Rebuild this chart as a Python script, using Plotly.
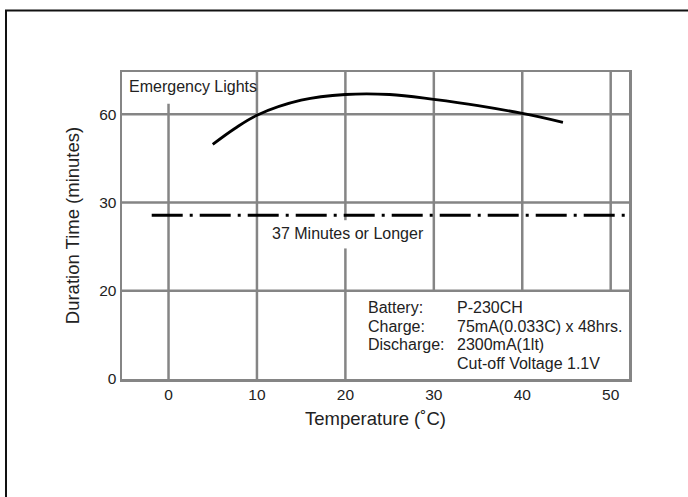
import plotly.graph_objects as go

# ---- data ----
temperature_c = [5, 7.5, 10, 15, 20, 25, 30, 35, 40, 44.6]
# positions on the (non-linear) duration axis: 0->0, 1->20, 2->30, 3->60 minutes
duration_pos = [2.66, 2.84, 2.99, 3.16, 3.225, 3.225, 3.17, 3.10, 3.01, 2.91]

threshold_label = "37 Minutes or Longer"
threshold_pos = 1.857
threshold_x = [-1.9, 51.6]

x_ticks = [0, 10, 20, 30, 40, 50]
y_tick_pos = [0, 1, 2, 3]
y_tick_text = ["0", "20", "30", "60"]

info_labels = ["Battery:", "Charge:", "Discharge:", ""]
info_values = ["P-230CH", "75mA(0.033C) x 48hrs.", "2300mA(1lt)", "Cut-off Voltage 1.1V"]
info_rows_y = [0.815, 0.596, 0.387, 0.178]

X_RANGE = [-5.26, 52.07]
Y_RANGE = [0, 3.48]
GRID = "#858585"
TXT = "#222222"
FONT = "Liberation Sans, Arial, Helvetica, sans-serif"
FS = 16

fig = go.Figure()

fig.add_trace(go.Scatter(
    x=temperature_c, y=duration_pos, mode="lines",
    line=dict(color="black", width=2.8, shape="spline", smoothing=1.0),
    showlegend=False, hoverinfo="skip"))

fig.add_trace(go.Scatter(
    x=threshold_x, y=[threshold_pos, threshold_pos], mode="lines",
    line=dict(color="black", width=3, dash="31px,7px,3px,7px"),
    showlegend=False, hoverinfo="skip"))

shapes = []
# vertical grid lines (some partly hidden behind labels)
v_segments = {
    0: [(0, 3.12)],
    10: [(0, Y_RANGE[1])],
    20: [(0, 1.48), (1.80, Y_RANGE[1])],
    30: [(1, Y_RANGE[1])],
    40: [(1, Y_RANGE[1])],
    50: [(1, Y_RANGE[1])],
}
for xv in x_ticks:
    for (y0, y1) in v_segments[xv]:
        shapes.append(dict(type="line", xref="x", yref="y", x0=xv, x1=xv, y0=y0, y1=y1,
                           line=dict(color=GRID, width=2.5), layer="below"))
for yv in y_tick_pos[1:]:
    shapes.append(dict(type="line", xref="x", yref="y", x0=X_RANGE[0], x1=X_RANGE[1], y0=yv, y1=yv,
                       line=dict(color=GRID, width=2.5), layer="below"))
# outer black frame (extends past the right/bottom of the page)
shapes.append(dict(type="rect", xref="paper", yref="paper", x0=-0.2288, x1=1.5, y0=-1.0, y1=1.2003,
                   line=dict(color="#111111", width=2), fillcolor="rgba(0,0,0,0)", layer="above"))

annotations = [
    dict(text="Emergency Lights", x=-4.7, y=3.317, xref="x", yref="y", xanchor="left", yanchor="middle",
         showarrow=False, font=dict(size=FS, color=TXT, family=FONT)),
    dict(text=threshold_label, x=20.34, y=1.653, xref="x", yref="y", xanchor="center", yanchor="middle",
         showarrow=False, font=dict(size=FS, color=TXT, family=FONT)),
]
for lab, val, yy in zip(info_labels, info_values, info_rows_y):
    if lab:
        annotations.append(dict(text=lab, x=22.33, y=yy, xref="x", yref="y", xanchor="left", yanchor="middle",
                                showarrow=False, font=dict(size=FS, color=TXT, family=FONT)))
    annotations.append(dict(text=val, x=32.38, y=yy, xref="x", yref="y", xanchor="left", yanchor="middle",
                            showarrow=False, font=dict(size=FS, color=TXT, family=FONT)))

fig.update_layout(
    width=688, height=497,
    margin=dict(l=122, r=59, t=72, b=118),
    paper_bgcolor="white", plot_bgcolor="white",
    font=dict(family=FONT, color=TXT),
    shapes=shapes, annotations=annotations,
    showlegend=False,
)
fig.update_xaxes(range=X_RANGE, tickvals=x_ticks, showgrid=False, zeroline=False,
                 showline=True, mirror=True, linecolor=GRID, linewidth=2.5, ticks="",
                 tickfont=dict(size=15.5, color=TXT, family=FONT),
                 title=dict(text="Temperature (˚C)", font=dict(size=18.5, color=TXT, family=FONT), standoff=10))
fig.update_yaxes(range=Y_RANGE, tickvals=y_tick_pos, ticktext=y_tick_text, showgrid=False, zeroline=False,
                 showline=True, mirror=True, linecolor=GRID, linewidth=2.5, ticks="",
                 tickfont=dict(size=15.5, color=TXT, family=FONT),
                 title=dict(text="Duration Time (minutes)", font=dict(size=18.5, color=TXT, family=FONT), standoff=15))

fig.write_html("out.html", config={"displayModeBar": False, "staticPlot": True},
               post_script="document.body.style.margin='0px';document.documentElement.style.overflow='hidden';")
